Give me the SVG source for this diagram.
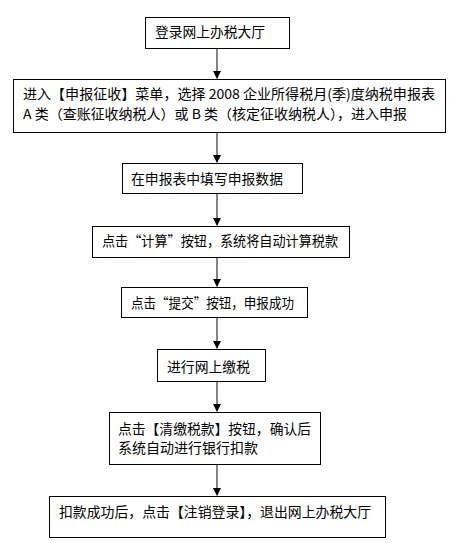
<svg xmlns="http://www.w3.org/2000/svg" width="449" height="543" viewBox="0 0 449 543">
<style>
.box{fill:#fff;stroke:#000;stroke-width:1}
.t{font-family:"Noto Sans CJK SC","Liberation Sans",sans-serif;font-size:13.7px;fill:#000}
.c{stroke:#333;stroke-width:1.2;fill:none;marker-end:url(#ah)}
</style>
<defs>
<marker id="ah" markerWidth="8" markerHeight="8" refX="7" refY="4" orient="auto" markerUnits="userSpaceOnUse">
<path d="M0,0 L8,4 L0,8 Z" fill="#000"/>
</marker>
</defs>
<rect width="449" height="543" fill="#fff"/>
<g id="connectors">
<line class="c" x1="217" y1="48" x2="217" y2="78"/>
<line class="c" x1="217" y1="132" x2="217" y2="162"/>
<line class="c" x1="217" y1="193" x2="217" y2="225"/>
<line class="c" x1="217" y1="257" x2="217" y2="286"/>
<line class="c" x1="217" y1="317" x2="217" y2="348"/>
<line class="c" x1="217" y1="381" x2="217" y2="411"/>
<line class="c" x1="217" y1="464" x2="217" y2="495"/>
</g>
<g id="n1"><rect class="box" x="145.5" y="17.5" width="144" height="31"/><text class="t" x="155" y="37" textLength="110" lengthAdjust="spacingAndGlyphs">登录网上办税大厅</text></g>
<g id="n2"><rect class="box" x="13.5" y="79.5" width="432" height="53"/><text class="t" x="23" y="99" textLength="412" lengthAdjust="spacingAndGlyphs">进入【申报征收】菜单，选择 2008 企业所得税月(季)度纳税申报表</text><text class="t" x="23" y="119" textLength="384" lengthAdjust="spacingAndGlyphs">A 类（查账征收纳税人）或 B 类（核定征收纳税人），进入申报</text></g>
<g id="n3"><rect class="box" x="122.5" y="163.5" width="180" height="30"/><text class="t" x="131" y="184" textLength="152" lengthAdjust="spacingAndGlyphs">在申报表中填写申报数据</text></g>
<g id="n4"><rect class="box" x="92.5" y="226.5" width="257" height="31"/><text class="t" x="102" y="246" textLength="236" lengthAdjust="spacingAndGlyphs">点击“计算”按钮，系统将自动计算税款</text></g>
<g id="n5"><rect class="box" x="121.5" y="287.5" width="186" height="30"/><text class="t" x="131" y="308" textLength="163" lengthAdjust="spacingAndGlyphs">点击“提交”按钮，申报成功</text></g>
<g id="n6"><rect class="box" x="157.5" y="349.5" width="108" height="32"/><text class="t" x="167" y="372" textLength="83" lengthAdjust="spacingAndGlyphs">进行网上缴税</text></g>
<g id="n7"><rect class="box" x="109.5" y="412.5" width="211" height="52"/><text class="t" x="118" y="434" textLength="193" lengthAdjust="spacingAndGlyphs">点击【清缴税款】按钮，确认后</text><text class="t" x="118" y="453" textLength="140" lengthAdjust="spacingAndGlyphs">系统自动进行银行扣款</text></g>
<g id="n8"><rect class="box" x="49.5" y="496.5" width="336" height="41"/><text class="t" x="59" y="517" textLength="312" lengthAdjust="spacingAndGlyphs">扣款成功后，点击【注销登录】，退出网上办税大厅</text></g>
</svg>
